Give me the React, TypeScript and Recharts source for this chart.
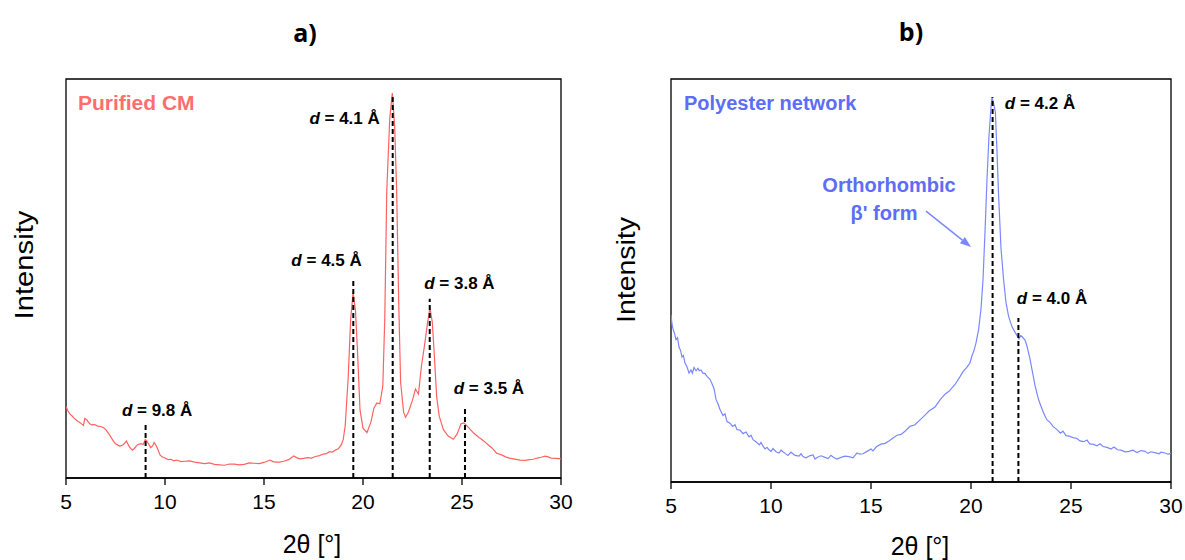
import React from 'react';
import { LineChart, Line, XAxis, YAxis, ReferenceLine, ReferenceArea, ReferenceDot } from 'recharts';

// ---- Data: Purified CM (panel a): [2θ, intensity %] ----
const cmPoints: number[][] = [
  [5.0, 17.9], [5.1, 16.8], [5.2, 16.0], [5.3, 15.6], [5.4, 15.0], [5.5, 14.6], [5.6, 14.2], [5.7, 13.9], [5.8, 13.5], [5.88, 13.2],
  [5.95, 14.9], [6.05, 14.6], [6.1, 14.2], [6.2, 13.6], [6.3, 13.3], [6.45, 13.4], [6.6, 13.0], [6.75, 12.9], [6.9, 12.6], [7.0, 12.2],
  [7.1, 11.5], [7.2, 10.8], [7.3, 10.0], [7.4, 9.2], [7.5, 8.6], [7.6, 8.3], [7.7, 8.0], [7.8, 8.1], [7.9, 8.4], [8.0, 8.9],
  [8.05, 9.3], [8.12, 8.6], [8.2, 7.8], [8.35, 7.0], [8.45, 7.4], [8.6, 8.3], [8.7, 8.5], [8.8, 8.6], [8.9, 8.4], [9.0, 9.6],
  [9.08, 9.3], [9.15, 8.7], [9.28, 7.6], [9.38, 8.1], [9.45, 8.9], [9.55, 8.2], [9.65, 7.0], [9.75, 5.8], [9.85, 5.3], [10.0, 5.0],
  [10.15, 4.6], [10.3, 4.7], [10.45, 4.3], [10.6, 4.5], [10.8, 4.1], [11.0, 4.2], [11.25, 4.3], [11.5, 4.0], [11.75, 3.8], [12.0, 3.6],
  [12.25, 3.8], [12.5, 3.4], [12.75, 3.3], [13.0, 3.2], [13.25, 3.5], [13.5, 3.5], [13.75, 3.3], [14.0, 3.4], [14.25, 3.8], [14.5, 3.7],
  [14.75, 3.6], [15.0, 3.9], [15.3, 4.5], [15.45, 4.1], [15.6, 4.0], [15.8, 4.0], [16.0, 4.2], [16.25, 4.6], [16.5, 5.5], [16.65, 5.1],
  [16.8, 4.8], [17.0, 4.9], [17.2, 5.1], [17.4, 5.0], [17.6, 5.4], [17.8, 5.6], [18.0, 6.0], [18.15, 6.1], [18.3, 6.6], [18.45, 6.5],
  [18.6, 7.0], [18.75, 7.3], [18.9, 8.3], [19.0, 9.6], [19.1, 13.0], [19.25, 25.0], [19.38, 40.0], [19.5, 46.5], [19.62, 42.0], [19.72, 32.0],
  [19.85, 17.0], [20.0, 12.5], [20.2, 11.4], [20.4, 14.0], [20.55, 17.5], [20.7, 18.8], [20.85, 18.6], [21.0, 23.0], [21.1, 40.0], [21.2, 72.0],
  [21.35, 90.0], [21.48, 96.5], [21.6, 88.0], [21.7, 72.0], [21.8, 45.0], [21.9, 24.0], [22.05, 16.5], [22.15, 15.2], [22.3, 16.6], [22.5, 19.5],
  [22.65, 22.3], [22.8, 21.0], [22.95, 28.0], [23.1, 33.0], [23.25, 38.5], [23.38, 42.8], [23.5, 39.0], [23.6, 31.0], [23.72, 20.4], [23.85, 15.5],
  [24.06, 12.1], [24.3, 10.5], [24.56, 9.7], [24.75, 11.0], [24.95, 13.6], [25.1, 13.8], [25.3, 12.8], [25.45, 12.0], [25.6, 11.2], [25.75, 10.6],
  [25.9, 10.0], [26.1, 9.3], [26.3, 8.4], [26.5, 7.6], [26.75, 6.2], [27.0, 5.8], [27.2, 5.3], [27.4, 5.0], [27.6, 4.8], [27.93, 4.5],
  [28.2, 4.4], [28.4, 4.6], [28.6, 4.7], [28.8, 5.0], [29.0, 5.2], [29.2, 5.5], [29.35, 5.3], [29.5, 5.0], [29.75, 4.9], [30.0, 4.8],
];

// ---- Data: Polyester network (panel b): [2θ, intensity %] ----
const pnPoints: number[][] = [
  [5.0, 41.5], [5.05, 39.2], [5.1, 38.0], [5.18, 36.8], [5.25, 35.3], [5.33, 35.8], [5.4, 33.5], [5.48, 32.6], [5.55, 31.0], [5.62, 31.4],
  [5.7, 29.5], [5.8, 28.6], [5.9, 27.0], [6.0, 27.8], [6.07, 27.0], [6.15, 28.4], [6.25, 27.6], [6.35, 28.2], [6.41, 27.6], [6.5, 27.8],
  [6.6, 27.0], [6.7, 26.9], [6.8, 26.2], [6.95, 25.5], [7.05, 24.4], [7.15, 23.2], [7.25, 20.5], [7.35, 19.4], [7.45, 18.0], [7.6, 16.5],
  [7.7, 16.9], [7.8, 15.0], [7.95, 14.6], [8.08, 13.8], [8.2, 14.2], [8.3, 13.0], [8.45, 12.9], [8.6, 12.0], [8.75, 12.4], [8.9, 11.2],
  [9.0, 11.6], [9.1, 10.5], [9.25, 10.0], [9.42, 9.2], [9.5, 9.8], [9.6, 8.9], [9.7, 8.2], [9.8, 8.6], [9.9, 8.0], [10.0, 7.6],
  [10.1, 8.3], [10.25, 7.5], [10.4, 7.2], [10.5, 7.9], [10.7, 7.1], [10.85, 6.6], [11.0, 7.4], [11.2, 6.6], [11.4, 6.4], [11.5, 7.0],
  [11.6, 6.3], [11.75, 6.0], [11.93, 6.5], [12.1, 6.7], [12.2, 5.7], [12.3, 6.1], [12.5, 6.5], [12.7, 6.1], [12.85, 5.8], [13.0, 6.6],
  [13.1, 6.2], [13.3, 5.7], [13.5, 6.1], [13.7, 6.4], [13.9, 6.3], [14.1, 6.0], [14.3, 7.2], [14.44, 6.9], [14.6, 7.0], [14.8, 7.6],
  [15.0, 8.2], [15.1, 7.7], [15.28, 8.8], [15.5, 9.4], [15.7, 9.6], [15.9, 10.2], [16.1, 10.9], [16.3, 11.6], [16.5, 11.8], [16.7, 12.6],
  [16.95, 13.8], [17.2, 14.2], [17.45, 15.4], [17.7, 16.6], [17.9, 17.6], [18.2, 18.6], [18.45, 20.4], [18.7, 21.8], [18.9, 22.5], [19.2, 24.2],
  [19.46, 26.2], [19.6, 27.4], [19.8, 28.5], [19.95, 29.6], [20.04, 31.2], [20.15, 32.6], [20.25, 34.5], [20.38, 37.8], [20.5, 43.0], [20.6, 50.2],
  [20.7, 62.0], [20.8, 75.1], [20.9, 86.0], [21.0, 93.0], [21.05, 95.5], [21.15, 93.5], [21.22, 91.7], [21.3, 82.0], [21.38, 71.0], [21.5, 58.0],
  [21.63, 50.2], [21.75, 44.5], [21.88, 41.1], [22.05, 38.5], [22.22, 37.0], [22.4, 35.5], [22.48, 36.3], [22.55, 36.1], [22.7, 35.2], [22.8, 33.7],
  [22.95, 30.5], [23.05, 27.9], [23.2, 24.0], [23.38, 20.4], [23.5, 18.8], [23.6, 17.5], [23.7, 16.4], [23.8, 15.4], [23.95, 14.8], [24.1, 13.8],
  [24.3, 13.0], [24.47, 12.1], [24.6, 12.6], [24.75, 11.5], [24.9, 11.4], [25.1, 11.0], [25.3, 10.8], [25.45, 10.2], [25.64, 10.0], [25.8, 10.4],
  [25.95, 9.4], [26.1, 9.4], [26.3, 9.0], [26.45, 9.5], [26.6, 8.8], [26.8, 8.6], [27.0, 8.2], [27.15, 8.7], [27.32, 8.0], [27.5, 7.9],
  [27.7, 7.5], [27.9, 7.6], [28.1, 7.9], [28.3, 7.3], [28.5, 7.8], [28.7, 7.6], [28.85, 7.1], [28.99, 7.5], [29.2, 7.3], [29.4, 7.0],
  [29.5, 7.4], [29.7, 7.2], [29.85, 6.9], [30.0, 7.1],
];

// ---- Peak annotations ----
const cmPeakTheta = [9.02, 19.51, 21.5, 23.37, 25.15];
const cmPeakTop = [13.3, 49.7, 95.5, 44.9, 17.9];
const cmPeakLabels = ['9.8', '4.5', '4.1', '3.8', '3.5'];
const cmLabelTheta = [9.6, 18.16, 19.07, 24.87, 26.36];
const cmLabelY = [17.0, 54.6, 90.2, 48.9, 22.6];

const pnPeakTheta = [21.08, 22.37];
const pnPeakTop = [95.5, 40.7];
const pnPeakLabels = ['4.2', '4.0'];
const pnLabelTheta = [23.45, 24.05];
const pnLabelY = [94.0, 45.7];

const xTicks = [5, 10, 15, 20, 25, 30];

const cmData = cmPoints.map(([t, v]) => ({ t, v }));
const pnData = pnPoints.map(([t, v]) => ({ t, v }));

const SANS = '"Liberation Sans", Arial, sans-serif';
const RED_LINE = '#ff6262';
const RED_TEXT = '#ff6e6e';
const BLUE_LINE = '#7a88ff';
const BLUE_TEXT = '#5d6df5';

const DLabel = (value: string) => (props: any) => (
  <text x={props.cx} y={props.cy} textAnchor="middle" dominantBaseline="central" fontFamily={SANS} fontWeight="bold" fontSize={17} fill="#000">
    <tspan fontStyle="italic">d</tspan>
    <tspan> = {value} Å</tspan>
  </text>
);

const TextDot = (value: string, color: string, size: number, anchor: 'start' | 'middle') => (props: any) => (
  <text x={props.cx} y={props.cy} textAnchor={anchor} dominantBaseline="central" fontFamily={SANS} fontWeight="bold" fontSize={size} fill={color}>
    {value}
  </text>
);

const ArrowShape = (props: any) => {
  const { x1, y1, x2, y2 } = props;
  if ([x1, y1, x2, y2].some((v) => typeof v !== 'number' || isNaN(v))) return null;
  const ang = Math.atan2(y2 - y1, x2 - x1);
  const L = 11;
  const W = 4;
  const bx = x2 - L * Math.cos(ang);
  const by = y2 - L * Math.sin(ang);
  const px = -Math.sin(ang) * W;
  const py = Math.cos(ang) * W;
  return (
    <g>
      <line x1={x1} y1={y1} x2={bx} y2={by} stroke={BLUE_LINE} strokeWidth={1.5} />
      <polygon points={`${x2},${y2} ${bx + px},${by + py} ${bx - px},${by - py}`} fill={BLUE_LINE} />
    </g>
  );
};

const axisTick = { fontSize: 21, fill: '#000', fontFamily: SANS };

const App = () => {
  return (
    <div style={{ position: 'absolute', left: 0, top: 0, width: 1185, height: 560, background: '#fff' }}>
      <svg width={1185} height={560} style={{ position: 'absolute', left: 0, top: 0 }}>
        <text x={305} y={32} textAnchor="middle" dominantBaseline="central" fontFamily='"Open Sans", sans-serif' fontWeight="bold" fontSize={25}>a)</text>
        <text x={911} y={31} textAnchor="middle" dominantBaseline="central" fontFamily='"Open Sans", sans-serif' fontWeight="bold" fontSize={25}>b)</text>
        <text x={24} y={265} transform="rotate(-90 24 265)" textAnchor="middle" dominantBaseline="central" fontFamily={SANS} fontSize={26} textLength={109} lengthAdjust="spacingAndGlyphs">Intensity</text>
        <text x={626} y={270} transform="rotate(-90 626 270)" textAnchor="middle" dominantBaseline="central" fontFamily={SANS} fontSize={26} textLength={106} lengthAdjust="spacingAndGlyphs">Intensity</text>
        <text x={312} y={544} textAnchor="middle" dominantBaseline="central" fontFamily={SANS} fontSize={25}>2θ [°]</text>
        <text x={920} y={546} textAnchor="middle" dominantBaseline="central" fontFamily={SANS} fontSize={25}>2θ [°]</text>
      </svg>

      <div style={{ position: 'absolute', left: 0, top: 0 }}>
        <LineChart width={600} height={560} data={cmData} margin={{ top: 79, right: 39, left: 66, bottom: 52 }}>
          <XAxis dataKey="t" type="number" domain={[5, 30]} ticks={xTicks} height={30} tick={axisTick} tickSize={7} tickMargin={9} axisLine={{ stroke: '#000', strokeWidth: 1.3 }} tickLine={{ stroke: '#000', strokeWidth: 1.3 }} allowDataOverflow />
          <YAxis hide domain={[0, 100]} type="number" allowDataOverflow />
          <ReferenceArea x1={5} x2={30} y1={0} y2={100} fill="none" stroke="#000" strokeWidth={1.3} ifOverflow="visible" />
          <Line type="linear" dataKey="v" stroke={RED_LINE} strokeWidth={1.2} dot={false} isAnimationActive={false} />
          {cmPeakTheta.map((t, i) => (
            <ReferenceLine key={'cl' + i} segment={[{ x: t, y: 0 }, { x: t, y: cmPeakTop[i] }]} stroke="#000" strokeWidth={2} strokeDasharray="5 3" />
          ))}
          {cmPeakLabels.map((lab, i) => (
            <ReferenceDot key={'cd' + i} x={cmLabelTheta[i]} y={cmLabelY[i]} r={0} shape={DLabel(lab)} />
          ))}
          <ReferenceDot x={5.6} y={94.0} r={0} shape={TextDot('Purified CM', RED_TEXT, 21, 'start')} />
        </LineChart>
      </div>

      <div style={{ position: 'absolute', left: 600, top: 0 }}>
        <LineChart width={585} height={560} data={pnData} margin={{ top: 79, right: 14, left: 71, bottom: 48 }}>
          <XAxis dataKey="t" type="number" domain={[5, 30]} ticks={xTicks} height={30} tick={axisTick} tickSize={7} tickMargin={9} axisLine={{ stroke: '#000', strokeWidth: 1.3 }} tickLine={{ stroke: '#000', strokeWidth: 1.3 }} allowDataOverflow />
          <YAxis hide domain={[0, 100]} type="number" allowDataOverflow />
          <ReferenceArea x1={5} x2={30} y1={0} y2={100} fill="none" stroke="#000" strokeWidth={1.3} ifOverflow="visible" />
          <Line type="linear" dataKey="v" stroke={BLUE_LINE} strokeWidth={1.2} dot={false} isAnimationActive={false} />
          {pnPeakTheta.map((t, i) => (
            <ReferenceLine key={'pl' + i} segment={[{ x: t, y: 0 }, { x: t, y: pnPeakTop[i] }]} stroke="#000" strokeWidth={2} strokeDasharray="5 3" />
          ))}
          {pnPeakLabels.map((lab, i) => (
            <ReferenceDot key={'pd' + i} x={pnLabelTheta[i]} y={pnLabelY[i]} r={0} shape={DLabel(lab)} />
          ))}
          <ReferenceDot x={5.65} y={94.0} r={0} shape={TextDot('Polyester network', BLUE_TEXT, 20, 'start')} />
          <ReferenceDot x={15.9} y={73.7} r={0} shape={TextDot('Orthorhombic', BLUE_TEXT, 20, 'middle')} />
          <ReferenceDot x={15.65} y={66.7} r={0} shape={TextDot("β' form", BLUE_TEXT, 20, 'middle')} />
          <ReferenceLine segment={[{ x: 17.75, y: 67.2 }, { x: 20.0, y: 58.3 }]} shape={ArrowShape} />
        </LineChart>
      </div>
    </div>
  );
};

export default App;
